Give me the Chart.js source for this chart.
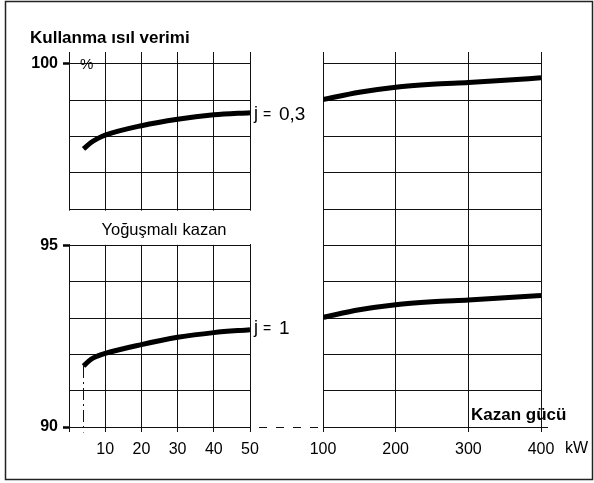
<!DOCTYPE html>
<html>
<head>
<meta charset="utf-8">
<script src="https://cdn.jsdelivr.net/npm/chart.js@4"></script>
<style>
  body { margin: 0; background: #fff; }
  #wrap { position: relative; width: 594px; height: 483px; }
  canvas { position: absolute; left: 0; top: 0; }
</style>
</head>
<body>
<div id="wrap">
  <canvas id="leftChart" width="594" height="483"></canvas>
  <canvas id="rightChart" width="594" height="483"></canvas>
</div>
<script>
// boiler output (kW) and seasonal efficiency (%)
const leftKw = [4, 6, 8, 10, 20, 30, 40, 50];
const leftHigh = [97.66, 97.83, 97.95, 98.04, 98.3, 98.48, 98.6, 98.66];   // j = 0,3
const leftLow = [91.68, 91.86, 91.96, 92.03, 92.27, 92.47, 92.6, 92.68];   // j = 1
const rightKw = [100, 150, 200, 250, 300, 350, 400];
const rightHigh = [99.02, 99.22, 99.36, 99.44, 99.49, 99.55, 99.62];
const rightLow = [93.02, 93.23, 93.37, 93.45, 93.5, 93.56, 93.62];
const yLabels = [90, 95, 100];
const minKw = 4;

const FONT = "'Liberation Sans', Arial, sans-serif";
const INK = "#111";
Chart.defaults.font.family = FONT;
Chart.defaults.color = "#000";

function curve(xs, ys) {
  return {
    data: xs.map((x, i) => ({ x: x, y: ys[i] })),
    borderColor: "#000",
    borderWidth: 5,
    pointRadius: 0,
    fill: false,
    cubicInterpolationMode: "monotone",
  };
}

function yScale(showLabels, width) {
  return {
    min: 90,
    max: 100.33,
    afterFit: (s) => { s.width = width; },
    border: { display: true, color: INK, width: 1 },
    grid: {
      color: INK,
      lineWidth: 1,
      drawTicks: showLabels,
      tickLength: 6,
      tickColor: (c) => (yLabels.includes(c.tick.value) ? "#000" : "rgba(0,0,0,0)"),
      tickWidth: 2.5,
    },
    ticks: {
      display: showLabels,
      stepSize: 1,
      includeBounds: false,
      padding: 5,
      font: { size: 16, weight: "bold" },
      callback: (v) => (yLabels.includes(v) ? String(v) : ""),
    },
  };
}

function xScale(min, max, step) {
  return {
    type: "linear",
    min: min,
    max: max,
    afterFit: (s) => { s.height = 56; },
    border: { display: true, color: INK, width: 1 },
    grid: { color: INK, lineWidth: 1, tickLength: 5, tickColor: INK },
    ticks: {
      stepSize: step,
      padding: 8,
      autoSkip: false,
      maxRotation: 0,
      font: { size: 16 },
      callback: (v) => (v === 0 ? "" : String(v)),
    },
  };
}

function txt(ctx, s, x, y, size, bold, align) {
  ctx.font = (bold ? "bold " : "") + size + "px " + FONT;
  ctx.textAlign = align || "left";
  ctx.textBaseline = "alphabetic";
  ctx.fillStyle = "#000";
  ctx.fillText(s, x, y);
}

const leftDecor = {
  id: "leftDecor",
  beforeDatasetsDraw(chart) {
    const ctx = chart.ctx;
    const x = chart.scales.x, y = chart.scales.y;
    ctx.save();
    ctx.fillStyle = "#fff";
    // label box hides the grid between 95 and 96
    ctx.fillRect(x.left - 1, y.getPixelForValue(95.96), x.right - x.left + 2, y.getPixelForValue(95.04) - y.getPixelForValue(95.96));
    ctx.fillRect(92, y.getPixelForValue(95.1), 142, 3);
    ctx.restore();
  },
  afterDraw(chart) {
    const ctx = chart.ctx;
    const x = chart.scales.x, y = chart.scales.y;
    ctx.save();
    // outer frame
    ctx.strokeStyle = "#222";
    ctx.lineWidth = 1.5;
    ctx.strokeRect(5.5, 1.5, 587, 478);

    txt(ctx, "Kullanma ısıl verimi", 30, 43, 17, true);
    txt(ctx, "%", 80, 69, 15, false);
    txt(ctx, "Yoğuşmalı kazan", 164, 235, 16.5, false, "center");

    // curve labels
    txt(ctx, "j", 254, 119, 18, false);
    txt(ctx, "=", 263, 119, 14, false);
    txt(ctx, "0,3", 279, 120, 19, false);
    txt(ctx, "j", 254, 333, 18, false);
    txt(ctx, "=", 263, 333, 14, false);
    txt(ctx, "1", 279, 334, 19, false);

    // dashed link between the two panels at 90 %
    const y90 = Math.round(y.getPixelForValue(90)) + 0.5;
    ctx.strokeStyle = INK;
    ctx.lineWidth = 1;
    ctx.setLineDash([8, 9]);
    ctx.beginPath();
    ctx.moveTo(x.right + 9, y90);
    ctx.lineTo(323, y90);
    ctx.stroke();

    // dash-dot line at the smallest boiler size
    const xs = Math.round(x.getPixelForValue(minKw)) + 0.5;
    ctx.setLineDash([12, 4, 2, 4]);
    ctx.beginPath();
    ctx.moveTo(xs, y.getPixelForValue(leftLow[0]));
    ctx.lineTo(xs, y90 + 5);
    ctx.stroke();
    ctx.restore();
  },
};

const rightDecor = {
  id: "rightDecor",
  afterDraw(chart) {
    const ctx = chart.ctx;
    const x = chart.scales.x, y = chart.scales.y;
    ctx.save();
    const y90 = Math.round(y.getPixelForValue(90)) + 0.5;
    ctx.strokeStyle = INK;
    ctx.lineWidth = 1;
    ctx.beginPath();
    ctx.moveTo(x.right, y90);
    ctx.lineTo(x.right + 7, y90);
    ctx.stroke();
    txt(ctx, "Kazan gücü", 471, 420, 17, true);
    txt(ctx, "kW", 565, 453, 16, false);
    ctx.restore();
  },
};

new Chart(document.getElementById("leftChart"), {
  type: "line",
  data: { datasets: [curve(leftKw, leftHigh), curve(leftKw, leftLow)] },
  options: {
    responsive: false,
    animation: false,
    devicePixelRatio: 1,
    layout: { padding: { left: 0, top: 52, right: 344, bottom: 0 } },
    plugins: { legend: { display: false }, tooltip: { enabled: false } },
    scales: { x: xScale(0, 50, 10), y: yScale(true, 69) },
  },
  plugins: [leftDecor],
});

new Chart(document.getElementById("rightChart"), {
  type: "line",
  data: { datasets: [curve(rightKw, rightHigh), curve(rightKw, rightLow)] },
  options: {
    responsive: false,
    animation: false,
    devicePixelRatio: 1,
    layout: { padding: { left: 0, top: 52, right: 53, bottom: 0 } },
    plugins: { legend: { display: false }, tooltip: { enabled: false } },
    scales: { x: xScale(100, 400, 100), y: yScale(false, 323) },
  },
  plugins: [rightDecor],
});
</script>
</body>
</html>
